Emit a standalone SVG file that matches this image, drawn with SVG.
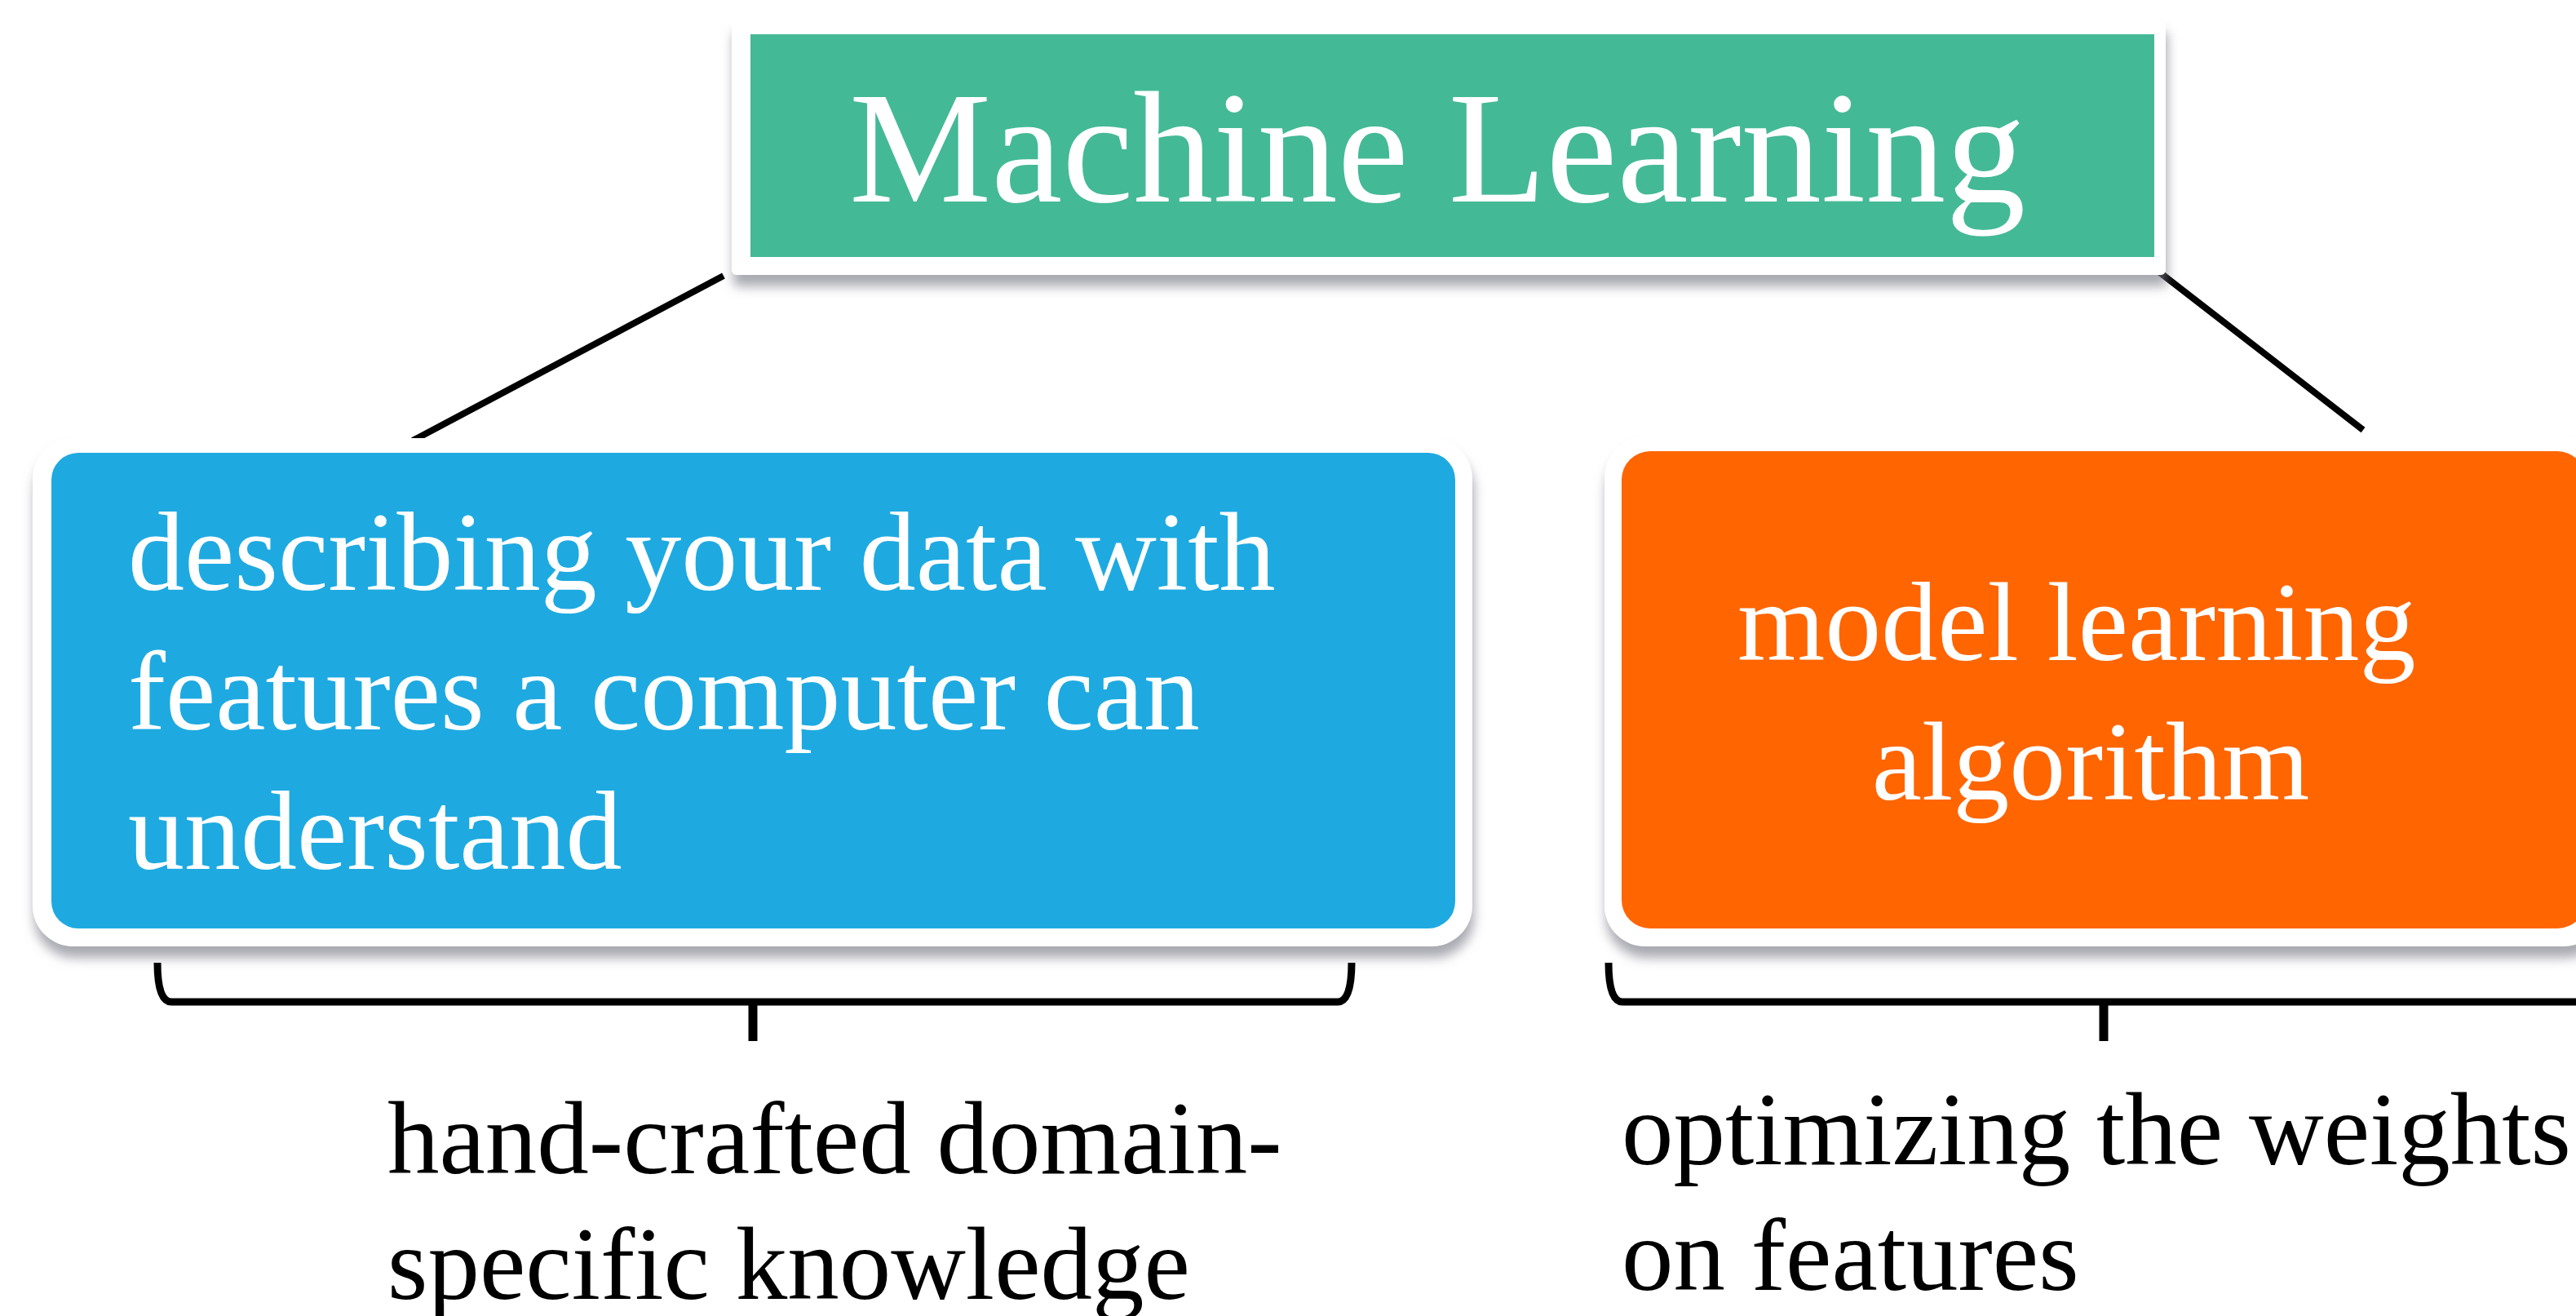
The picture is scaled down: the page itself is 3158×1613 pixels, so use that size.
<svg xmlns="http://www.w3.org/2000/svg" width="3158" height="1613" viewBox="0 0 3158 1613">
  <defs>
    <filter id="shadow" x="-5%" y="-5%" width="110%" height="115%">
      <feDropShadow dx="2" dy="14" stdDeviation="7" flood-color="#7a7a88" flood-opacity="0.65"/>
    </filter>
    <style>
      .frame { fill: #ffffff; filter: url(#shadow); }
      .inbox { font-family: "Liberation Serif", "Times New Roman", serif; fill: #ffffff; }
      .label { font-family: "Liberation Serif", "Times New Roman", serif; fill: #000000; font-size: 127px; }
      .conn { stroke: #000000; stroke-width: 8; fill: none; }
      .brace { stroke: #000000; stroke-width: 9; fill: none; stroke-linejoin: round; }
      .tick { stroke: #000000; stroke-width: 11; fill: none; }
    </style>
  </defs>
  <rect width="3158" height="1613" fill="#ffffff"/>

  <g id="connectors">
    <line class="conn" x1="887" y1="338" x2="506" y2="540"/>
    <line class="conn" x1="2640" y1="328" x2="2897" y2="527"/>
  </g>

  <g id="node-ml">
    <rect class="frame" x="897" y="25" width="1758" height="312" rx="6"/>
    <rect x="920" y="42" width="1721" height="273" fill="#44B996"/>
    <text class="inbox" x="1041" y="247" font-size="196">Machine Learning</text>
  </g>

  <g id="node-features">
    <rect class="frame" x="40" y="537" width="1765" height="623" rx="50"/>
    <rect x="63" y="555" width="1721" height="583" rx="33" fill="#1EAAE1"/>
    <text class="inbox" font-size="138">
      <tspan x="157" y="723">describing your data with</tspan>
      <tspan x="157" y="894">features a computer can</tspan>
      <tspan x="157" y="1065">understand</tspan>
    </text>
  </g>

  <g id="node-model">
    <rect class="frame" x="1967" y="535" width="1225" height="625" rx="50"/>
    <rect x="1988" y="553" width="1182" height="585" rx="35" fill="#FF6501"/>
    <text class="inbox" font-size="138" text-anchor="middle">
      <tspan x="2563" y="809">model learning</tspan>
      <tspan x="2563" y="980">algorithm</tspan>
    </text>
  </g>

  <g id="brace-left">
    <path class="brace" d="M 193 1180 Q 193 1228 210 1228 L 1640 1228 Q 1657 1228 1657 1180"/>
    <line class="tick" x1="923" y1="1226" x2="923" y2="1276"/>
    <text class="label">
      <tspan x="475" y="1438">hand-crafted domain-</tspan>
      <tspan x="475" y="1592">specific knowledge</tspan>
    </text>
  </g>

  <g id="brace-right">
    <path class="brace" d="M 1972 1180 Q 1972 1228 1989 1228 L 3170 1228"/>
    <line class="tick" x1="2579" y1="1226" x2="2579" y2="1276"/>
    <text class="label">
      <tspan x="1988" y="1427">optimizing the weights</tspan>
      <tspan x="1988" y="1581">on features</tspan>
    </text>
  </g>
</svg>
